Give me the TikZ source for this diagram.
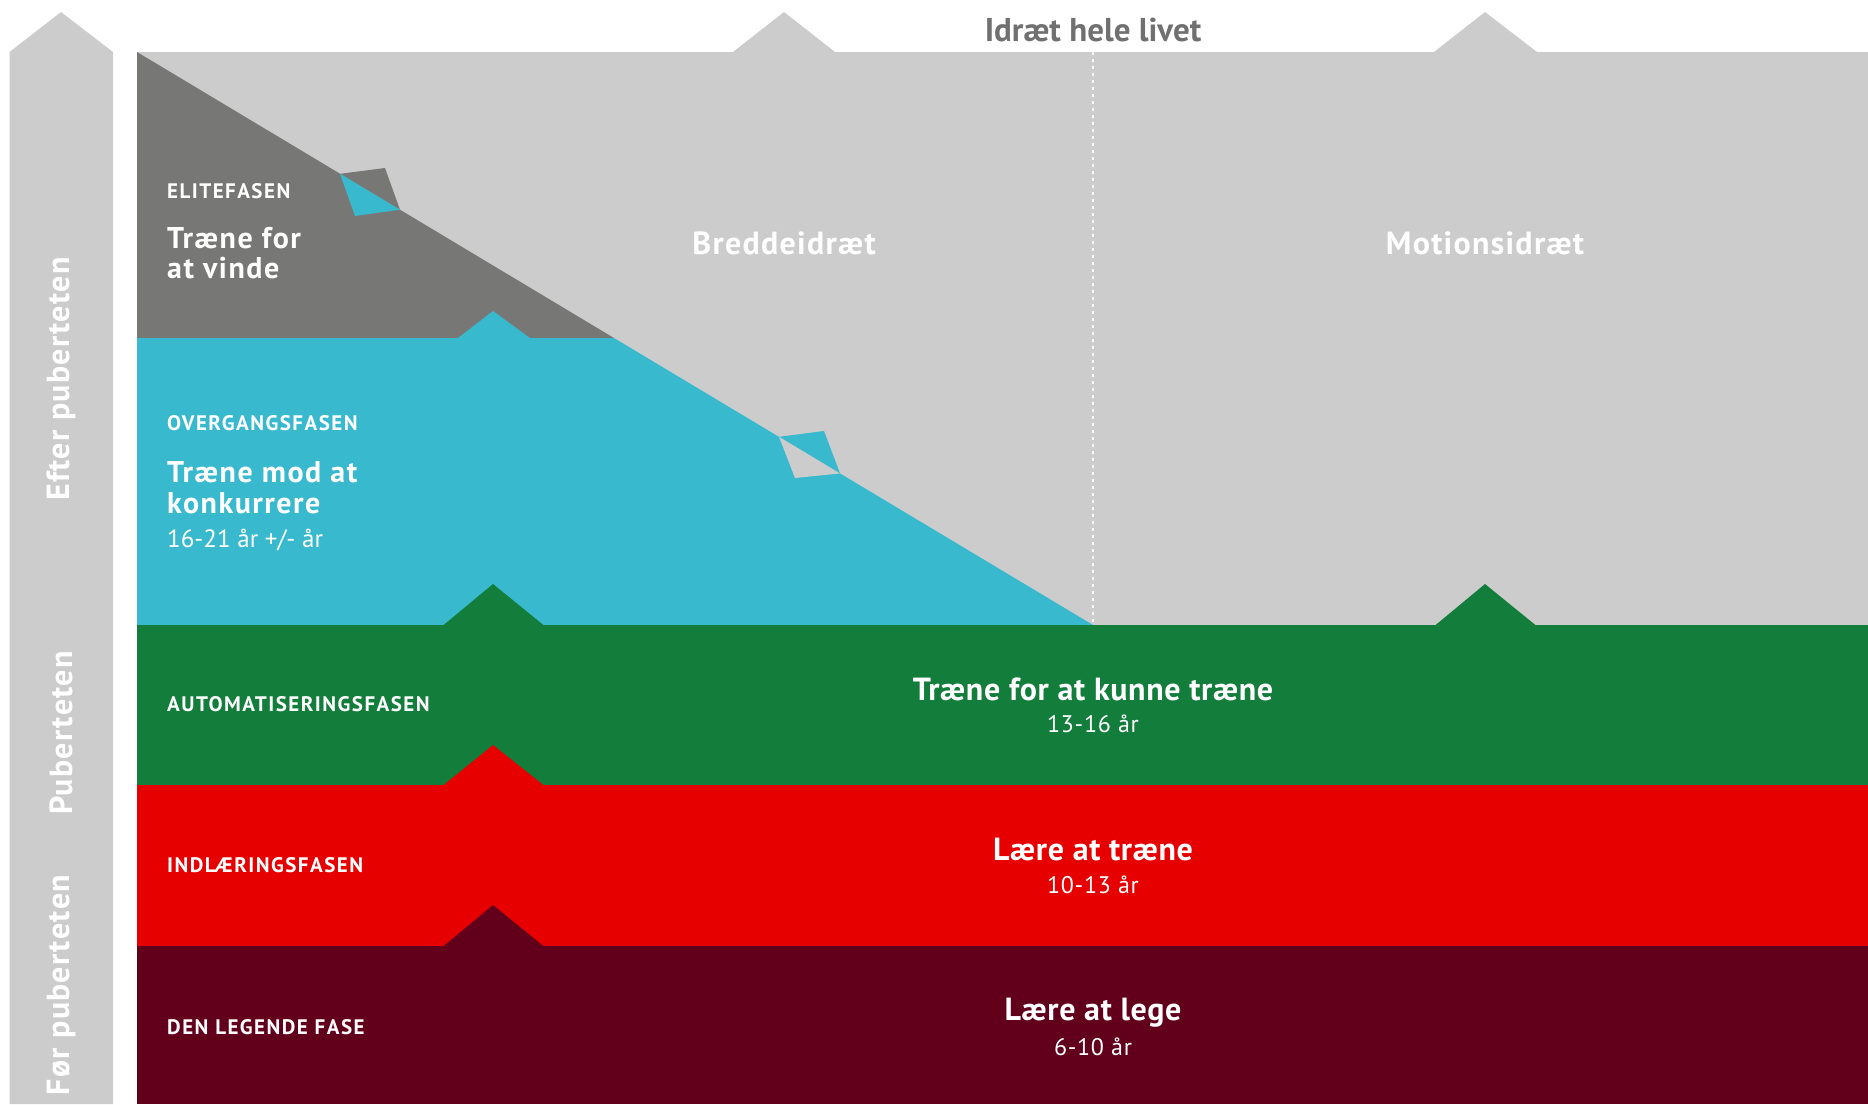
\documentclass[tikz,border=0pt]{standalone}
\usepackage{fontspec}
\setmainfont{PT Sans}
\definecolor{lgray}{HTML}{CCCCCC}
\definecolor{dgray}{HTML}{777875}
\definecolor{cyanc}{HTML}{38B9CE}
\definecolor{greenc}{HTML}{137D3B}
\definecolor{redc}{HTML}{E60000}
\definecolor{maroonc}{HTML}{62001C}
\definecolor{titlegray}{HTML}{707070}
\tikzset{
  fase/.style={anchor=base west, inner sep=0pt, text=white, font=\bfseries\fontsize{21}{21}\selectfont\addfontfeature{LetterSpace=7}},
  head/.style={anchor=base west, inner sep=0pt, text=white, font=\bfseries\fontsize{30}{30}\selectfont\addfontfeature{LetterSpace=5}},
  age/.style={anchor=base west, inner sep=0pt, text=white, font=\fontsize{25}{25}\selectfont},
  ctitle/.style={anchor=base, inner sep=0pt, text=white, font=\bfseries\fontsize{32}{32}\selectfont\addfontfeature{LetterSpace=2}},
  csub/.style={anchor=base, inner sep=0pt, text=white, font=\fontsize{24}{24}\selectfont\addfontfeature{LetterSpace=3}},
  areatitle/.style={anchor=base, inner sep=0pt, text=white, font=\bfseries\fontsize{32}{32}\selectfont\addfontfeature{LetterSpace=4}},
  sidelabel/.style={rotate=90, inner sep=0pt, text=white, font=\bfseries\fontsize{32}{32}\selectfont\addfontfeature{LetterSpace=4}}
}
\begin{document}
\begin{tikzpicture}[x=1pt,y=-1pt]
\useasboundingbox (0,0) rectangle (1868,1104);
% left side bar with arrow head
\fill[lgray] (9.5,1104) -- (9.5,52) -- (61,12) -- (113,52) -- (113,1104) -- cycle;
% top arrow heads
\fill[lgray] (733,52) -- (784,12) -- (835,52) -- cycle;
\fill[lgray] (1434,52) -- (1485,12) -- (1537,52) -- cycle;
% upper gray area
\coordinate (tl) at (137,52);
\coordinate (dend) at (1093,625);
\fill[lgray] (137,52) rectangle (1868,625);
% dark gray elite triangle
\fill[dgray] (tl) -- (614,338) -- (137,338) -- cycle;
% cyan region
\fill[cyanc] (137,338) -- (614,338) -- (dend) -- (137,625) -- cycle;
% small cyan triangle on elite/cyan border
\fill[cyanc] (458,338) -- (493,311) -- (530,338) -- cycle;
% diamond markers on diagonal
\fill[dgray] (340,173.8) -- (385,168) -- (400,209.7) -- cycle;
\fill[cyanc] (340,173.8) -- (400,209.7) -- (355,216) -- cycle;
\fill[cyanc] (779,436.8) -- (824,431) -- (840,473.4) -- cycle;
\fill[lgray] (779,436.8) -- (840,473.4) -- (795,478) -- cycle;
% dotted divider
\draw[white, line width=2pt, dash pattern=on 3pt off 4pt] (1093,52) -- (dend);
% bands
\fill[greenc] (137,625) rectangle (1868,785);
\fill[redc] (137,785) rectangle (1868,946);
\fill[maroonc] (137,946) rectangle (1868,1104);
% band triangles
\fill[greenc] (443,625.5) -- (493,584) -- (544,625.5) -- cycle;
\fill[greenc] (1435,625.5) -- (1485,584) -- (1536,625.5) -- cycle;
\fill[redc] (443,785.5) -- (493,745) -- (544,785.5) -- cycle;
\fill[maroonc] (443,946.5) -- (493,905) -- (544,946.5) -- cycle;
% texts
\node[anchor=base, inner sep=0pt, text=titlegray, font=\bfseries\fontsize{33}{33}\selectfont] (title) at (1093,41) {Idræt hele livet};
\node[sidelabel] (efter) at (61,379) {Efter puberteten};
\node[sidelabel] (pub) at (61,733) {Puberteten};
\node[sidelabel] (foer) at (61,985) {Før puberteten};
\node[fase] (elite) at (167,198) {ELITEFASEN};
\node[head] (elite1) at (167,248) {Træne for};
\node[head] (elite2) at (167,278) {at vinde};
\node[fase] (overg) at (167,430) {OVERGANGSFASEN};
\node[head] (overg1) at (167,482) {Træne mod at};
\node[head] (overg2) at (167,513) {konkurrere};
\node[age] (overg3) at (167,547) {16-21 år +/- år};
\node[areatitle] (bredde) at (784,254) {Breddeidræt};
\node[areatitle] (motion) at (1485,254) {Motionsidræt};
\node[fase] (auto) at (167,711) {AUTOMATISERINGSFASEN};
\node[ctitle] (auto1) at (1093,700) {Træne for at kunne træne};
\node[csub] (auto2) at (1093,732) {13-16 år};
\node[fase] (indl) at (167,872) {INDLÆRINGSFASEN};
\node[ctitle] (indl1) at (1093,860) {Lære at træne};
\node[csub] (indl2) at (1093,893) {10-13 år};
\node[fase] (leg) at (167,1034) {DEN LEGENDE FASE};
\node[ctitle] (leg1) at (1093,1020) {Lære at lege};
\node[csub] (leg2) at (1093,1055) {6-10 år};
\end{tikzpicture}
\end{document}
